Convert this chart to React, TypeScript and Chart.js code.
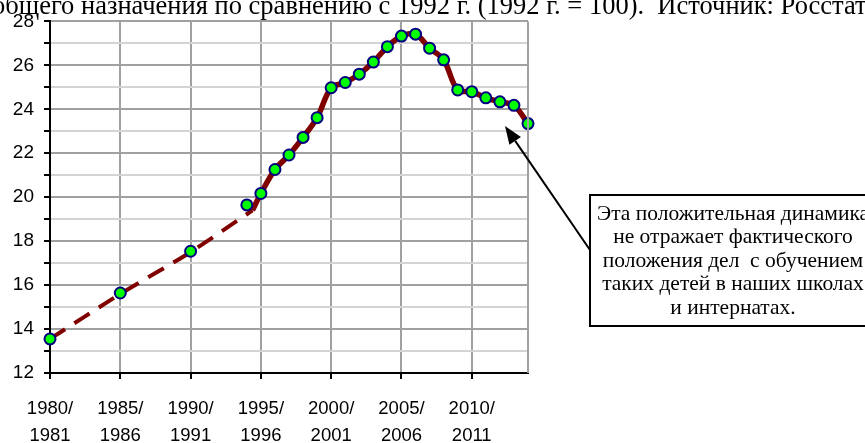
import React, { useEffect, useRef } from "react";
import { Chart, registerables } from "chart.js";

Chart.register(...registerables);

// Observed values (school year start)
const pointYears = [1980, 1985, 1990, 1994, 1995, 1996, 1997, 1998, 1999, 2000, 2001, 2002, 2003, 2004, 2005, 2006, 2007, 2008, 2009, 2010, 2011, 2012, 2013, 2014];
const pointValues = [13.55, 15.64, 17.54, 19.65, 20.17, 21.26, 21.92, 22.72, 23.62, 24.98, 25.22, 25.6, 26.15, 26.85, 27.33, 27.42, 26.78, 26.25, 24.88, 24.8, 24.52, 24.34, 24.18, 23.35];

// Dashed trend (early years)
const trendYears = [1980, 1985, 1990, 1994.4];
const trendValues = [13.55, 15.6, 17.5, 19.4];

// Solid smoothed line
const lineYears = [1994.4, 1995, 1996, 1997, 1998, 1999, 2000, 2001, 2002, 2003, 2004, 2005, 2006, 2007, 2008, 2009, 2010, 2011, 2012, 2013, 2014];
const lineValues = [19.4, 20.17, 21.26, 21.92, 22.72, 23.62, 24.98, 25.22, 25.6, 26.15, 26.85, 27.33, 27.42, 26.78, 26.25, 24.88, 24.8, 24.52, 24.34, 24.18, 23.35];

const xTickYears = [1980, 1985, 1990, 1995, 2000, 2005, 2010];

const titleText = "общего назначения по сравнению с 1992 г. (1992 г. = 100).  Источник: Росстат";
const noteLines = [
  "Эта положительная динамика",
  "не отражает фактического",
  "положения дел  с обучением",
  "таких детей в наших школах",
  "и интернатах.",
];

const extrasPlugin = {
  id: "extras",
  afterDraw(chart: any) {
    const { ctx, chartArea } = chart;
    ctx.save();
    // right border of plot
    ctx.strokeStyle = "#a0a0a0";
    ctx.lineWidth = 2;
    ctx.beginPath();
    ctx.moveTo(chartArea.right, chartArea.top);
    ctx.lineTo(chartArea.right, chartArea.bottom);
    ctx.stroke();

    // title (cropped at the top of the picture)
    ctx.fillStyle = "#000";
    ctx.font = '26.5px "Liberation Serif", "Times New Roman", serif';
    ctx.textBaseline = "alphabetic";
    ctx.textAlign = "left";
    ctx.fillText(titleText, -8, 14);

    // arrow
    const x0 = 590, y0 = 250, x1 = 505, y1 = 126;
    ctx.strokeStyle = "#000";
    ctx.lineWidth = 2;
    const ang = Math.atan2(y1 - y0, x1 - x0);
    const hl = 18, hw = 7;
    const bx = x1 - hl * Math.cos(ang), by = y1 - hl * Math.sin(ang);
    ctx.beginPath();
    ctx.moveTo(x0, y0);
    ctx.lineTo(bx, by);
    ctx.stroke();
    ctx.beginPath();
    ctx.moveTo(x1, y1);
    ctx.lineTo(bx + hw * Math.sin(ang), by - hw * Math.cos(ang));
    ctx.lineTo(bx - hw * Math.sin(ang), by + hw * Math.cos(ang));
    ctx.closePath();
    ctx.fillStyle = "#000";
    ctx.fill();

    // note box
    ctx.fillStyle = "#fff";
    ctx.fillRect(590, 195, 290, 131);
    ctx.strokeStyle = "#000";
    ctx.lineWidth = 2;
    ctx.strokeRect(590, 195, 290, 131);
    ctx.fillStyle = "#000";
    ctx.font = '21.5px "Liberation Serif", "Times New Roman", serif';
    ctx.textAlign = "center";
    ctx.textBaseline = "middle";
    noteLines.forEach((t, i) => {
      ctx.fillText(t, 733, 214 + i * 23.5);
    });
    ctx.restore();
  },
};

export default function App() {
  const ref = useRef<HTMLCanvasElement>(null);
  useEffect(() => {
    const canvas = ref.current!;
    const toXY = (xs: number[], ys: number[]) => xs.map((x, i) => ({ x, y: ys[i] }));
    const chart = new Chart(canvas, {
      type: "scatter",
      data: {
        datasets: [
          {
            label: "points",
            data: toXY(pointYears, pointValues),
            showLine: false,
            pointRadius: 5.5,
            pointBackgroundColor: "#00ff00",
            pointBorderColor: "#000080",
            pointBorderWidth: 2,
            order: 0,
            clip: false as any,
          },
          {
            label: "line",
            data: toXY(lineYears, lineValues),
            showLine: true,
            borderColor: "#800000",
            borderWidth: 5.5,
            tension: 0.35,
            pointRadius: 0,
            order: 1,
          },
          {
            label: "trend",
            data: toXY(trendYears, trendValues),
            showLine: true,
            borderColor: "#800000",
            borderWidth: 4,
            borderDash: [18, 11],
            tension: 0.2,
            pointRadius: 0,
            order: 2,
          },
        ],
      },
      options: {
        responsive: false,
        animation: false,
        layout: { padding: { top: 19, right: 337, left: 0, bottom: 0 } },
        plugins: { legend: { display: false }, tooltip: { enabled: false }, title: { display: false } },
        scales: {
          x: {
            type: "linear",
            min: 1980,
            max: 2014,
            afterBuildTicks: (axis: any) => {
              axis.ticks = xTickYears.map((v) => ({ value: v }));
            },
            afterFit: (scale: any) => {
              scale.height = 70;
            },
            grid: { color: "#a0a0a0", lineWidth: 2, tickColor: "#000", tickLength: 6 },
            border: { color: "#000", width: 2 },
            ticks: {
              color: "#000",
              padding: 16,
              maxRotation: 0,
              autoSkip: false,
              font: { family: '"Liberation Sans", Arial, sans-serif', size: 18.5, lineHeight: 1.49 },
              callback: (v: any) => [`${v}/`, `${Number(v) + 1}`],
            },
          },
          y: {
            min: 12,
            max: 28,
            afterFit: (scale: any) => {
              scale.width = 50;
            },
            grid: {
              color: (c: any) => (c.tick && c.tick.value % 2 === 0 ? "#a0a0a0" : "#d4d4d4"),
              lineWidth: 2,
              tickColor: "#000",
              tickLength: 6,
            },
            border: { color: "#000", width: 2 },
            ticks: {
              stepSize: 1,
              color: "#000",
              padding: 10,
              autoSkip: false,
              font: { family: '"Liberation Sans", Arial, sans-serif', size: 19 },
              callback: (v: any) => (Number(v) % 2 === 0 ? String(v) : ""),
            },
          },
        },
      },
      plugins: [extrasPlugin],
    });
    return () => chart.destroy();
  }, []);
  return (
    <div style={{ position: "fixed", left: 0, top: 0, width: 865, height: 443, background: "#fff" }}>
      <canvas ref={ref} width={865} height={443} style={{ display: "block" }} />
    </div>
  );
}
